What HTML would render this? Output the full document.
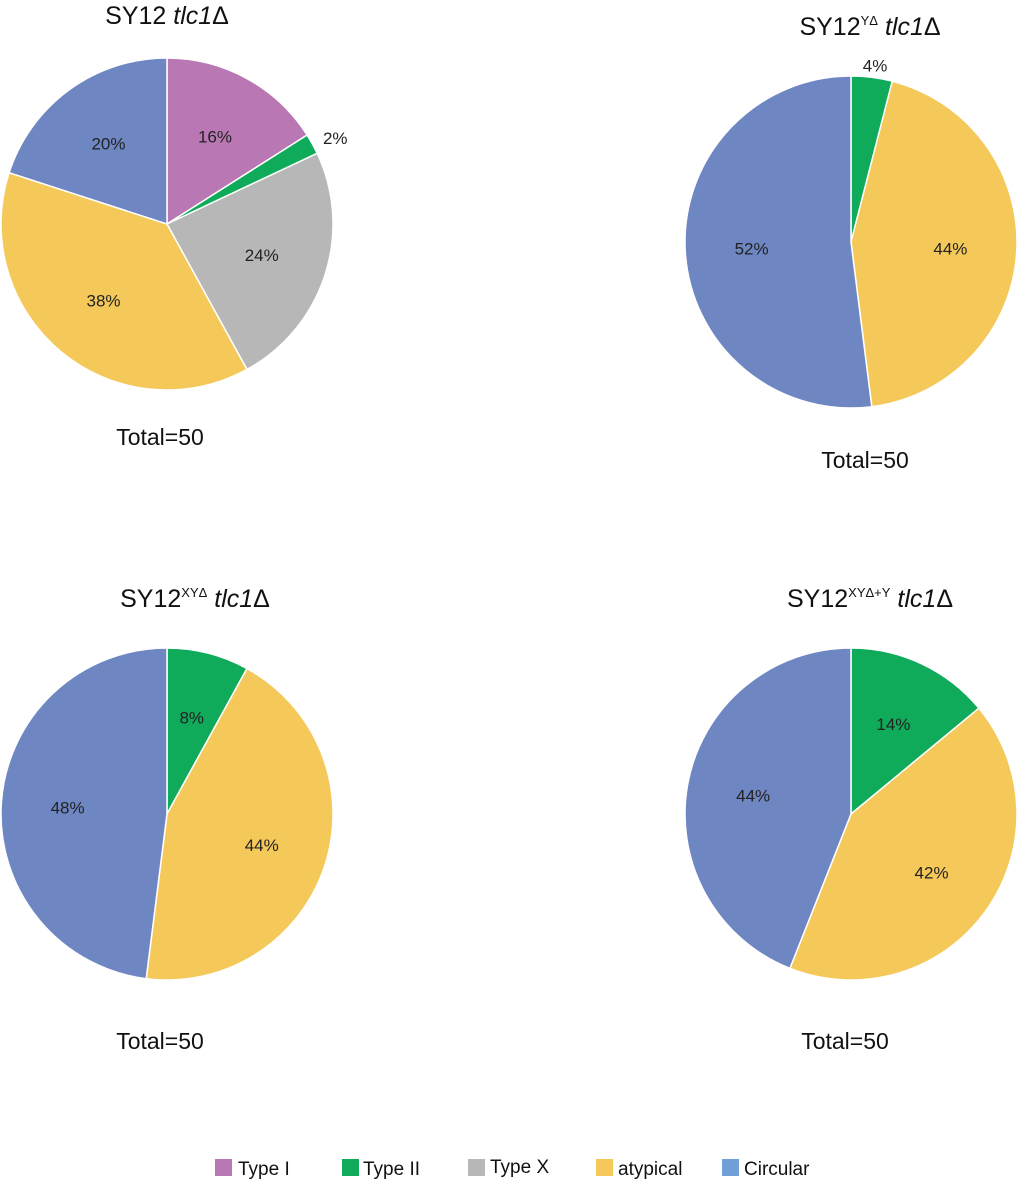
<!DOCTYPE html>
<html><head><meta charset="utf-8">
<style>
body{margin:0;background:#fff;}
svg{display:block;font-family:"Liberation Sans",sans-serif;}
</style></head>
<body>
<svg id="chart" width="1019" height="1187" viewBox="0 0 1019 1187">
  <g font-size="25" fill="#111" text-anchor="middle">
    <text x="167" y="24">SY12 <tspan font-style="italic">tlc1</tspan>Δ</text>
    <text x="870" y="35">SY12<tspan font-size="13" dy="-10">YΔ</tspan><tspan dy="10"> </tspan><tspan font-style="italic">tlc1</tspan>Δ</text>
    <text x="195" y="607">SY12<tspan font-size="13" dy="-10">XYΔ</tspan><tspan dy="10"> </tspan><tspan font-style="italic">tlc1</tspan>Δ</text>
    <text x="870" y="607">SY12<tspan font-size="13" dy="-10">XYΔ+Y</tspan><tspan dy="10"> </tspan><tspan font-style="italic">tlc1</tspan>Δ</text>
  </g>
  <g font-size="23" fill="#111" text-anchor="middle">
    <text x="160" y="445">Total=50</text>
    <text x="865" y="468">Total=50</text>
    <text x="160" y="1049">Total=50</text>
    <text x="845" y="1049">Total=50</text>
  </g>
  <g id="pies"></g>
  <g font-size="19" fill="#111">
    <rect x="215" y="1159" width="17" height="17" fill="#b978b4"/>
    <text x="238" y="1175">Type I</text>
    <rect x="342" y="1159" width="17" height="17" fill="#0faa5a"/>
    <text x="363" y="1175">Type II</text>
    <rect x="468" y="1159" width="17" height="17" fill="#b7b7b7"/>
    <text x="490" y="1173">Type X</text>
    <rect x="596" y="1159" width="17" height="17" fill="#f5c85a"/>
    <text x="618" y="1175">atypical</text>
    <rect x="722" y="1159" width="17" height="17" fill="#6fa0d8"/>
    <text x="744" y="1175">Circular</text>
  </g>
</svg>
<script>
const categories = ["Type I","Type II","Type X","atypical","Circular"];
const pie1Values = [16,2,24,38,20];
const pie2Values = [0,4,0,44,52];
const pie3Values = [0,8,0,44,48];
const pie4Values = [0,14,0,42,44];
const colors = ["#b978b4","#0faa5a","#b7b7b7","#f5c85a","#6e86c2"];
const pies = [
  {vals:pie1Values,cx:167,cy:224,name:"pie-sy12"},
  {vals:pie2Values,cx:851,cy:242,name:"pie-sy12-y-delta"},
  {vals:pie3Values,cx:167,cy:814,name:"pie-sy12-xy-delta"},
  {vals:pie4Values,cx:851,cy:814,name:"pie-sy12-xy-delta-plus-y"}
];
const R = 166;
const NS = "http://www.w3.org/2000/svg";
const root = document.getElementById("pies");
function pt(cx,cy,r,frac){const a=frac*2*Math.PI;return [cx+r*Math.sin(a),cy-r*Math.cos(a)];}
pies.forEach(p=>{
  const g=document.createElementNS(NS,"g");
  
  
  root.appendChild(g);
  const total=p.vals.reduce((a,b)=>a+b,0);
  let acc=0;
  p.vals.forEach((v,i)=>{
    if(v<=0) return;
    const f0=acc/total, f1=(acc+v)/total; acc+=v;
    const [x0,y0]=pt(p.cx,p.cy,R,f0), [x1,y1]=pt(p.cx,p.cy,R,f1);
    const large=(f1-f0)>0.5?1:0;
    const path=document.createElementNS(NS,"path");
    path.setAttribute("d",`M${p.cx},${p.cy} L${x0},${y0} A${R},${R} 0 ${large} 1 ${x1},${y1} Z`);
    path.setAttribute("fill",colors[i]);
    path.setAttribute("stroke","#fff");
    path.setAttribute("stroke-width","1.5");
    
    
    g.appendChild(path);
    const mid=(f0+f1)/2;
    const small=v/total<0.05;
    const [lx,ly]=pt(p.cx,p.cy,small?R+12:R*0.6,mid);
    const t=document.createElementNS(NS,"text");
    const sx=Math.sin(mid*2*Math.PI);
    t.setAttribute("x",small?lx+14*sx:lx);t.setAttribute("y",ly+6);
    t.setAttribute("text-anchor","middle");t.setAttribute("font-size","17");t.setAttribute("fill","#222");
    t.textContent=v+"%";
    
    
    g.appendChild(t);
  });
});
</script>
</body></html>
